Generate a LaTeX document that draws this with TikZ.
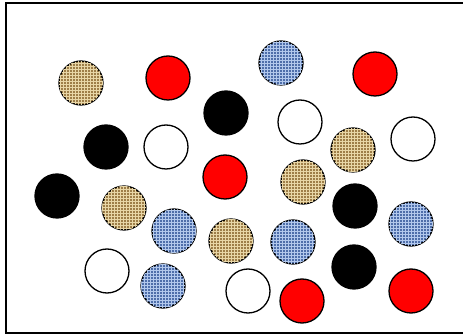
\documentclass[tikz,border=0pt]{standalone}
\usepackage{tikz}
\usetikzlibrary{patterns}
\definecolor{burlaptan}{RGB}{158, 126, 72}
\definecolor{burlaplight}{RGB}{232, 214, 166}
\definecolor{denimblue}{RGB}{78, 110, 170}
\definecolor{denimlight}{RGB}{178, 200, 236}

\begin{document}
\begin{tikzpicture}[x=1pt, y=-1pt,
        ball/.style={circle, draw=black, line width=1.3pt, minimum size=44pt, inner sep=0pt},
        burlap/.style={ball, fill=burlaptan, postaction={pattern=grid, pattern color=burlaplight}},
        denim/.style={ball, fill=denimblue, postaction={pattern=grid, pattern color=denimlight}},
        redball/.style={ball, fill=red},
        blackball/.style={ball, fill=black},
        whiteball/.style={ball, fill=white}]
        % Frame
        \clip (0, 0) rectangle (463, 336);
        \useasboundingbox (0, 0) rectangle (463, 336);
        \draw[line width=2pt] (6, 3) rectangle (475, 333);

        % Burlap balls
        \node[burlap] (tan1) at (81, 83) {};
        \node[burlap] (tan2) at (353, 150) {};
        \node[burlap] (tan3) at (303, 182) {};
        \node[burlap] (tan4) at (124, 208) {};
        \node[burlap] (tan5) at (231, 241) {};

        % Denim balls
        \node[denim] (blue1) at (281, 63) {};
        \node[denim] (blue2) at (174, 231) {};
        \node[denim] (blue3) at (411, 224) {};
        \node[denim] (blue4) at (293, 242) {};
        \node[denim] (blue5) at (163, 286) {};

        % Red balls
        \node[redball] (red1) at (168, 78) {};
        \node[redball] (red2) at (375, 74) {};
        \node[redball] (red3) at (225, 177) {};
        \node[redball] (red4) at (302, 301) {};
        \node[redball] (red5) at (411, 291) {};

        % Black balls
        \node[blackball] (black1) at (226, 113) {};
        \node[blackball] (black2) at (106, 147) {};
        \node[blackball] (black3) at (57, 196) {};
        \node[blackball] (black4) at (355, 206) {};
        \node[blackball] (black5) at (354, 267) {};

        % White balls
        \node[whiteball] (white1) at (166, 147) {};
        \node[whiteball] (white2) at (300, 122) {};
        \node[whiteball] (white3) at (413, 139) {};
        \node[whiteball] (white4) at (107, 271) {};
        \node[whiteball] (white5) at (248, 291) {};
    \end{tikzpicture}
\end{document}
